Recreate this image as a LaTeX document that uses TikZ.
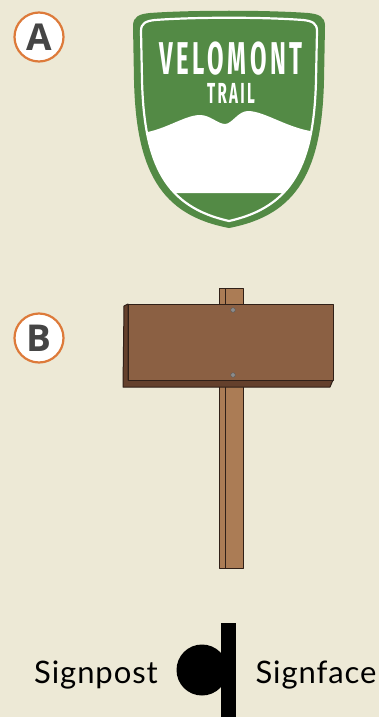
\documentclass[tikz,border=0pt]{standalone}
\usepackage{fontspec}
\usepackage{tikz}
\setmainfont{Lato}[LetterSpace=3]
\newfontfamily\markfont{Open Sans}
\newfontfamily\trailfont[FakeStretch=0.52, LetterSpace=8]{Fira Sans}

\definecolor{paper}{RGB}{237,233,214}
\definecolor{markorange}{RGB}{221,122,58}
\definecolor{markgray}{RGB}{69,69,69}
\definecolor{trailgreen}{RGB}{83,138,69}
\definecolor{boardbrown}{RGB}{139,96,67}
\definecolor{boardside}{RGB}{100,64,44}
\definecolor{postbrown}{RGB}{171,124,85}
\definecolor{woodline}{RGB}{48,32,24}

\tikzset{
    marker/.style={circle, draw=markorange, line width=2.2pt, fill=white,
        minimum size=49pt, inner sep=0pt, text=markgray,
        font=\markfont\bfseries\fontsize{37}{37}\selectfont},
    legend/.style={anchor=base, font=\fontsize{31}{31}\selectfont},
    trailtext/.style={white, inner sep=0pt},
    wood/.style={draw=woodline, line width=1pt, line join=round}
}

\begin{document}
\begin{tikzpicture}[x=1pt, y=-1pt]
                        \fill [paper] (0,0) rectangle (379,717);
                        \useasboundingbox (0,0) rectangle (379,717);

                        \node [marker] (markA) at (39,37) {A};
                        \node [marker] (markB) at (39,338) {B};

                        \fill [trailgreen] (133,26) .. controls (133,16) and (140,14) .. (150,13)
                            .. controls (190,10) and (268,10) .. (308,13)
                            .. controls (318,14) and (325,16) .. (325,26)
                            -- (324,80) .. controls (322,170) and (298,215) .. (229,228)
                            .. controls (160,215) and (136,170) .. (134,80) -- cycle;
                        \begin{scope}
                            \clip (141,31) .. controls (141,23) and (146,21) .. (155,20)
                                .. controls (195,17) and (263,17) .. (303,20)
                                .. controls (312,21) and (317,23) .. (317,31)
                                -- (316,80) .. controls (314,165) and (292,207) .. (229,221)
                                .. controls (166,207) and (144,165) .. (142,80) -- cycle;
                            \fill [white] (130,133) -- (142,133) .. controls (165,130) and (185,115) .. (200,115)
                                .. controls (210,115) and (218,124) .. (225,124)
                                .. controls (232,124) and (238,111) .. (248,111)
                                .. controls (265,111) and (290,130) .. (318,132)
                                -- (330,132) -- (330,193) -- (130,193) -- cycle;
                        \end{scope}
                        \draw [white, line width=2.2pt] (141,31) .. controls (141,23) and (146,21) .. (155,20)
                            .. controls (195,17) and (263,17) .. (303,20)
                            .. controls (312,21) and (317,23) .. (317,31)
                            -- (316,80) .. controls (314,165) and (292,207) .. (229,221)
                            .. controls (166,207) and (144,165) .. (142,80) -- cycle;
                        \node [trailtext, font=\trailfont\bfseries\fontsize{46}{46}\selectfont] (velomont) at (231,59) {VELOMONT};
                        \node [trailtext, font=\trailfont\bfseries\fontsize{29}{29}\selectfont] (trail) at (231,93) {TRAIL};

                        \draw [wood, fill=postbrown] (219,288) rectangle (243,568);
                        \draw [woodline, line width=0.8pt] (225,288) -- (225,568);
                        \draw [wood, fill=boardside] (128,304) -- (124,306) -- (123,387) -- (330,387) -- (333,380) -- (128,380) -- cycle;
                        \draw [wood, fill=boardbrown] (128,304) rectangle (333,380);
                        \foreach \y in {310,375}
                        {
                            \draw [fill=black!45, draw=black!65, line width=0.4pt] (233,\y) circle (2.3);
                        }

                        \fill (202,670) circle (25.5);
                        \fill (221,623) rectangle (236,717);
                        \node [legend] (signpost) at (96,683) {Signpost};
                        \node [legend] (signface) at (316,683) {Signface};
                    \end{tikzpicture}
\end{document}
